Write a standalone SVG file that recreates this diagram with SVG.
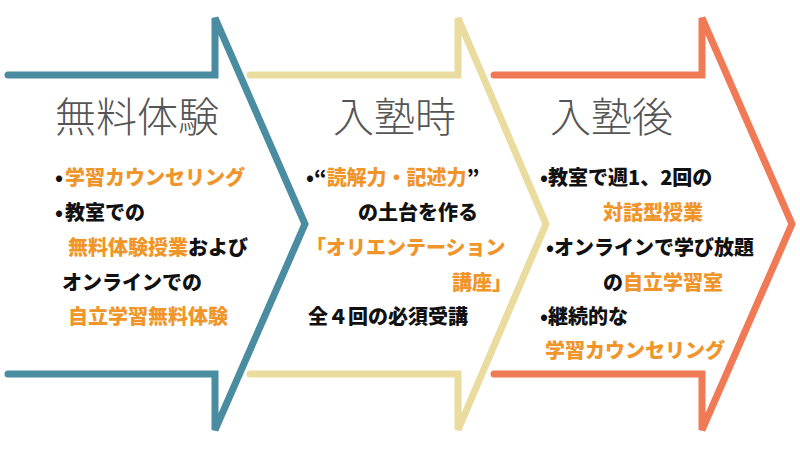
<svg xmlns="http://www.w3.org/2000/svg" width="800" height="450" viewBox="0 0 800 450">
<style>
.arrow{fill:none;stroke-width:7;stroke-linecap:round;stroke-linejoin:miter}
.title{font-family:"Noto Sans CJK JP","Noto Sans",sans-serif;font-size:41px;font-weight:300;fill:#555555}
.body{font-family:"Noto Sans CJK JP","Noto Sans",sans-serif;font-size:20px;font-weight:900;fill:#111111}
.o{fill:#f0952a}
</style>
<rect width="800" height="450" fill="#ffffff"/>
<g id="connectors">
<polyline class="arrow" stroke="#4a8ca0" points="8,75 215,75 215,18 305,224 215,430 215,374 8,374"/>
<polyline class="arrow" stroke="#e9dc9e" points="250,75 458,75 458,18 546,224 458,430 458,374 250,374"/>
<polyline class="arrow" stroke="#f07a55" points="494,75 702,75 702,18 792,224 702,430 702,374 494,374"/>
</g>
<g id="node-free-trial">
<text class="title" x="55" y="132">無料体験</text>
<text class="body" x="55" y="185">•<tspan x="65" class="o">学習カウンセリング</tspan></text>
<text class="body" x="55" y="220">•<tspan x="65">教室での</tspan></text>
<text class="body" x="68" y="255"><tspan class="o">無料体験授業</tspan>および</text>
<text class="body" x="62" y="290">オンラインでの</text>
<text class="body" x="68" y="324" ><tspan class="o">自立学習無料体験</tspan></text>
</g>
<g id="node-enrollment">
<text class="title" x="333" y="132">入塾時</text>
<text class="body" x="306" y="185">•“<tspan class="o">読解力・記述力</tspan>”</text>
<text class="body" x="358" y="220">の土台を作る</text>
<text class="body" x="306" y="255"><tspan class="o">「オリエンテーション</tspan></text>
<text class="body" x="452" y="290"><tspan class="o">講座」</tspan></text>
<text class="body" x="308" y="324">全４回の必須受講</text>
</g>
<g id="node-after">
<text class="title" x="550" y="132">入塾後</text>
<text class="body" x="540" y="185">•教室で週1、2回の</text>
<text class="body" x="603" y="220"><tspan class="o">対話型授業</tspan></text>
<text class="body" x="546" y="255">•オンラインで学び放題</text>
<text class="body" x="603" y="290">の<tspan class="o">自立学習室</tspan></text>
<text class="body" x="540" y="324">•継続的な</text>
<text class="body" x="545" y="358"><tspan class="o">学習カウンセリング</tspan></text>
</g>
</svg>
